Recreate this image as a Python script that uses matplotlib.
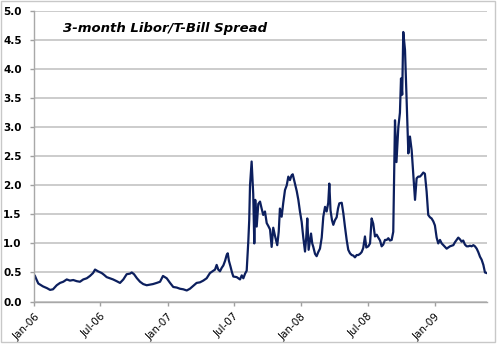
"""
3-month Libor / T-Bill spread, Jan 2006 - May 2009
"""

import matplotlib as mpl
mpl.use('Agg')
import matplotlib.pyplot as plt
import matplotlib.dates as mdates
from matplotlib.patches import Rectangle
import numpy as np
import pandas as pd

# years since 2006-01-01
t = [0.005, 0.016, 0.030, 0.065, 0.095, 0.118, 0.140, 0.168, 0.193, 0.217,
     0.243, 0.267, 0.292, 0.318, 0.342, 0.367, 0.393, 0.417, 0.440, 0.455,
     0.477, 0.505, 0.522, 0.542, 0.567, 0.590, 0.617, 0.642, 0.667, 0.692,
     0.717, 0.730, 0.747, 0.769, 0.792, 0.816, 0.842, 0.867, 0.889, 0.917,
     0.942, 0.964, 0.992, 1.017, 1.041, 1.067, 1.091, 1.116, 1.142, 1.166,
     1.191, 1.216, 1.241, 1.266, 1.291, 1.316, 1.341, 1.354, 1.366, 1.378,
     1.391, 1.404, 1.416, 1.429, 1.441, 1.449, 1.458, 1.470, 1.481, 1.491,
     1.516, 1.541, 1.554, 1.566, 1.579, 1.591, 1.603, 1.610, 1.616, 1.628,
     1.640, 1.648, 1.655, 1.666, 1.678, 1.691, 1.703, 1.715, 1.728, 1.741,
     1.753, 1.766, 1.778, 1.790, 1.803, 1.820, 1.831, 1.840, 1.853, 1.865,
     1.878, 1.891, 1.903, 1.915, 1.927, 1.936, 1.953, 1.966, 1.978, 1.990,
     2.003, 2.015, 2.028, 2.037, 2.045, 2.055, 2.065, 2.073, 2.082, 2.090,
     2.103, 2.115, 2.127, 2.140, 2.153, 2.165, 2.178, 2.190, 2.202, 2.210,
     2.219, 2.230, 2.240, 2.252, 2.265, 2.275, 2.285, 2.303, 2.315, 2.327,
     2.340, 2.352, 2.365, 2.378, 2.390, 2.402, 2.415, 2.427, 2.440, 2.452,
     2.464, 2.477, 2.487, 2.502, 2.515, 2.527, 2.539, 2.552, 2.565, 2.577,
     2.590, 2.602, 2.614, 2.627, 2.640, 2.652, 2.664, 2.677, 2.689, 2.697,
     2.702, 2.713, 2.727, 2.739, 2.747, 2.756, 2.764, 2.777, 2.790, 2.802,
     2.814, 2.827, 2.839, 2.852, 2.864, 2.876, 2.889, 2.901, 2.914, 2.926,
     2.939, 2.951, 2.964, 2.976, 2.989, 3.001, 3.014, 3.026, 3.039, 3.052,
     3.064, 3.076, 3.089, 3.101, 3.114, 3.126, 3.139, 3.151, 3.164, 3.176,
     3.189, 3.201, 3.213, 3.226, 3.239, 3.251, 3.264, 3.276, 3.289, 3.301,
     3.314, 3.326, 3.339, 3.351, 3.364, 3.376, 3.389]

spread = [0.44, 0.38, 0.31, 0.26, 0.23, 0.20, 0.21, 0.28, 0.32, 0.34,
          0.38, 0.36, 0.37, 0.35, 0.34, 0.38, 0.40, 0.44, 0.49, 0.55,
          0.52, 0.49, 0.46, 0.42, 0.40, 0.38, 0.35, 0.32, 0.38, 0.47,
          0.48, 0.50, 0.47, 0.40, 0.34, 0.30, 0.28, 0.29, 0.30, 0.32,
          0.34, 0.44, 0.40, 0.32, 0.25, 0.24, 0.22, 0.21, 0.19, 0.22,
          0.27, 0.32, 0.33, 0.36, 0.40, 0.49, 0.53, 0.55, 0.63, 0.55,
          0.52, 0.58, 0.62, 0.70, 0.80, 0.83, 0.70, 0.60, 0.50, 0.43,
          0.42, 0.38, 0.45, 0.40, 0.48, 0.53, 1.03, 1.40, 2.00, 2.41,
          1.85, 1.00, 1.75, 1.29, 1.68, 1.72, 1.60, 1.49, 1.55, 1.35,
          1.30, 1.24, 0.94, 1.27, 1.13, 0.97, 1.20, 1.60, 1.46, 1.70,
          1.92, 2.00, 2.15, 2.09, 2.17, 2.19, 2.03, 1.90, 1.75, 1.55,
          1.37, 1.10, 0.86, 1.10, 1.43, 0.89, 1.05, 1.17, 1.00, 0.94,
          0.82, 0.78, 0.85, 0.91, 1.10, 1.46, 1.63, 1.55, 1.70, 2.03,
          1.57, 1.40, 1.32, 1.40, 1.45, 1.60, 1.69, 1.70, 1.52, 1.29,
          1.06, 0.89, 0.83, 0.80, 0.79, 0.76, 0.80, 0.80, 0.82, 0.85,
          0.92, 1.12, 0.93, 0.95, 1.00, 1.43, 1.34, 1.12, 1.15, 1.10,
          1.05, 0.95, 0.98, 1.06, 1.06, 1.09, 1.05, 1.06, 1.20, 2.32,
          3.12, 2.40, 3.00, 3.25, 3.84, 3.56, 4.64, 4.33, 3.41, 2.55,
          2.84, 2.60, 2.20, 1.75, 2.12, 2.15, 2.15, 2.18, 2.22, 2.20,
          1.89, 1.49, 1.45, 1.43, 1.38, 1.31, 1.10, 1.00, 1.06, 1.00,
          0.97, 0.94, 0.91, 0.93, 0.95, 0.96, 0.97, 1.02, 1.06, 1.10,
          1.07, 1.03, 1.05, 0.98, 0.95, 0.95, 0.96, 0.95, 0.97, 0.95,
          0.91, 0.85, 0.77, 0.72, 0.63, 0.50, 0.49]

start = pd.Timestamp('2006-01-01')
dates = start + pd.to_timedelta(np.array(t) * 365.25, unit='D')
end = dates[-1]

fig = plt.figure(figsize=(5, 3.46), dpi=100)
ax = fig.add_axes([0.0686, 0.1286, 0.9048, 0.8394])

ax.plot(dates, spread, color='#0c1f5e', linewidth=1.6)

ax.set_xlim(start, end)
ax.set_ylim(0, 5)
ax.set_yticks(np.arange(0, 5.01, 0.5))
ax.set_yticklabels(['%.1f' % v for v in np.arange(0, 5.01, 0.5)],
                   fontsize=7.5, fontweight='bold')
ax.yaxis.grid(True, color='#c4c4c4', linewidth=1.2)
ax.set_axisbelow(True)

ax.xaxis.set_major_locator(mdates.MonthLocator(bymonth=[1, 7]))
ax.xaxis.set_major_formatter(mdates.DateFormatter('%b-%y'))
for lbl in ax.get_xticklabels():
    lbl.set_rotation(45)
    lbl.set_ha('right')
    lbl.set_rotation_mode('anchor')
    lbl.set_fontsize(7.5)

ax.tick_params(axis='both', colors='#a0a0a0', length=3, width=1,
               labelcolor='black')
ax.tick_params(axis='y', pad=6)
ax.tick_params(axis='x', pad=4)
for side in ['top', 'right']:
    ax.spines[side].set_visible(False)
for side in ['left', 'bottom']:
    ax.spines[side].set_color('#a8a8a8')
    ax.spines[side].set_linewidth(1)

ax.text(0.063, 0.94, '3-month Libor/T-Bill Spread', transform=ax.transAxes,
        fontsize=9.5, fontweight='bold', style='italic', va='center', ha='left')

# chart area frame
fig.patches.append(Rectangle((0.002, 0.012), 0.988, 0.984, transform=fig.transFigure,
                             fill=False, edgecolor='#c8c8c8', linewidth=1))

plt.savefig('out.png', dpi=100)
